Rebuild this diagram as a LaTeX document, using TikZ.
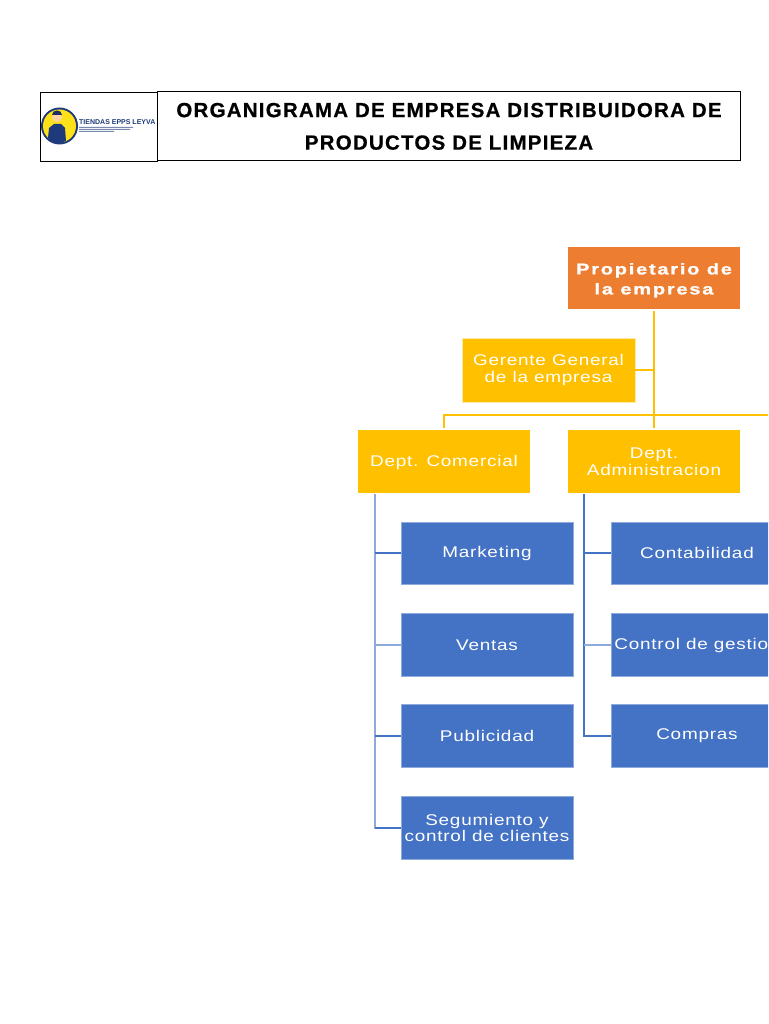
\documentclass[tikz,border=0pt]{standalone}
\usepackage{fontspec}
\usetikzlibrary{calc}
\setmainfont{Liberation Sans}
\newfontfamily\boxfont[FakeStretch=1.22,LetterSpace=5]{Liberation Sans}
\newfontfamily\boldboxfont[FakeStretch=1.3,LetterSpace=11,FakeBold=1]{Liberation Sans Bold}
\newfontfamily\titlefont[LetterSpace=6,FakeBold=0.6]{Liberation Sans Bold}
\definecolor{orangeB}{HTML}{ED7D31}
\definecolor{goldB}{HTML}{FFC000}
\definecolor{blueB}{HTML}{4472C4}
\definecolor{blueL}{HTML}{8FAADC}
\definecolor{paleedge}{HTML}{FFE9A8}
\definecolor{logoNavy}{HTML}{1F3A7A}
\definecolor{logoYellow}{HTML}{FFE11A}
\tikzset{
 orgbox/.style={minimum width=#1,minimum height=62,inner sep=0,align=center,text=white,
   font=\boxfont\fontsize{15.5}{16.5}\selectfont},
 goldbox/.style={orgbox=172,fill=goldB},
 bluebox/.style={orgbox=172,fill=blueB,draw=blueL,line width=0.5,minimum height=63},
 ownerbox/.style={orgbox=172,fill=orangeB,font=\boldboxfont\fontsize{15.5}{20}\selectfont},
 goldline/.style={draw=goldB,line width=1.8},
 blueline/.style={draw=blueB,line width=1.4},
 palebline/.style={draw=blueL,line width=1.4},
 framebox/.style={draw=black,line width=0.8,inner sep=0},
}
\begin{document}
\begin{tikzpicture}[x=1pt,y=-1pt]
\useasboundingbox (0,0) rectangle (768,1024);
\clip (0,0) rectangle (768,1024);
\fill[white] (0,0) rectangle (768,1024);
% header
\node[framebox,minimum width=583,minimum height=69,align=center,
  font=\titlefont\fontsize{20.5}{32.5}\selectfont] (title) at (449,126)
  {\rule{0pt}{15pt}ORGANIGRAMA DE EMPRESA DISTRIBUIDORA DE\\PRODUCTOS DE LIMPIEZA};
\node[framebox,minimum width=117,minimum height=69] (logo) at (98.5,127) {};
% logo
\fill[logoNavy] (59.5,126) circle (18.5);
\fill[logoYellow] (59.5,126) circle (16.5);
\fill[logoNavy] (48,138) -- (49,128) -- (54,124) -- (61,124) -- (65,128) -- (66,141) -- (59,143.5) -- (52,142) -- cycle;
\fill[orange!35!white] (57,117) circle (5);
\fill[logoNavy!80!black] (52,115) .. controls (52,109) and (62,109) .. (62,115) -- cycle;
\node[inner sep=0,text=logoNavy,font=\bfseries\fontsize{7}{7}\selectfont,anchor=west] (brand) at (79,122.5) {TIENDAS EPPS LEYVA};
\fill[logoNavy,opacity=.6] (79,127) rectangle (133,128) (79,129) rectangle (130,130) (79,131) rectangle (114,132);
% nodes
\node[ownerbox] (owner) at (654,278) {\rule{0pt}{16pt}Propietario de\\la empresa};
\node[goldbox,minimum width=173,minimum height=64,draw=paleedge,line width=0.6] (gerente) at (548.5,370) {Gerente General\\de la empresa};
\node[goldbox,minimum height=63] (comercial) at (444,461.5) {\rule{0pt}{14pt}Dept. Comercial};
\node[orgbox=172,fill=goldB,minimum height=63] (admin) at (654,461.5) {Dept.\\Administracion};
\node[bluebox,minimum height=62] (mkt) at (487,553) {Marketing};
\node[bluebox] (ventas) at (487,645) {Ventas};
\node[bluebox] (pub) at (487,736) {Publicidad};
\node[bluebox] (seg) at (487,828) {Segumiento y\\control de clientes};
\node[bluebox,minimum height=62] (cont) at (697,553) {Contabilidad};
\node[bluebox] (ctrl) at (697,645) {Control de gestion};
\node[bluebox] (comp) at (697,736) {Compras};
% connector helpers
\coordinate (barend) at (770,415);
\coordinate (spineA) at (375,494);
\coordinate (spineB) at (584,494);
% connectors
\draw[goldline] (owner.south) ++(0,2) -- ($(admin.north)+(0,-2)$);
\draw[goldline] (gerente.east) -- (gerente.east -| owner.south);
\draw[goldline] (comercial.north) ++(0,-2) |- (barend);
\draw[palebline] (spineA) |- (seg.west);
\draw[blueline] (spineA |- mkt.west) -- (mkt.west);
\draw[palebline] (spineA |- ventas.west) -- (ventas.west);
\draw[blueline] (spineA |- pub.west) -- (pub.west);
\draw[blueline] (spineA |- seg.west) -- (seg.west);
\draw[blueline] (spineB) |- (comp.west);
\draw[blueline] (spineB |- cont.west) -- (cont.west);
\draw[palebline] (spineB |- ctrl.west) -- (ctrl.west);
\end{tikzpicture}
\end{document}
